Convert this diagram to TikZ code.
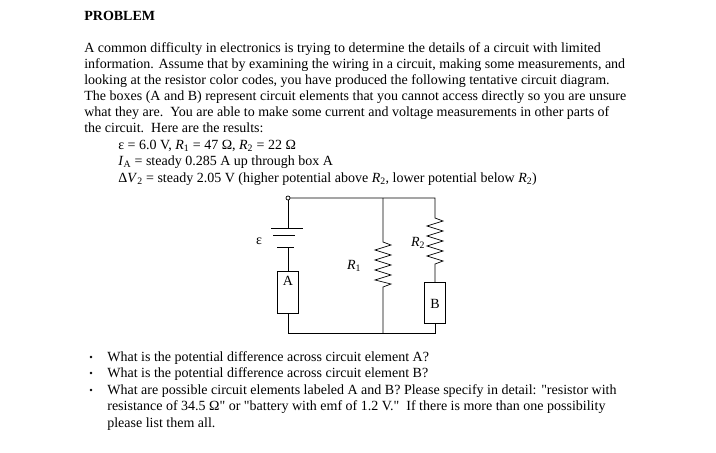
\documentclass[tikz,border=0pt]{standalone}
\usepackage{fontspec}
\setmainfont{Liberation Serif}[Ligatures=TeXOff]
\begin{document}
\begin{tikzpicture}[x=1pt,y=-1pt,line width=0.7pt,
 txt/.style={anchor=base west,inner sep=0pt,font=\fontsize{14}{16}\selectfont},
 lab/.style={inner sep=0pt,font=\fontsize{14}{16}\selectfont},
 box/.style={draw,minimum width=21pt,inner sep=0pt}]
\useasboundingbox (0,0) rectangle (716,453);
\node[txt,font=\bfseries\fontsize{14}{16}\selectfont] (title) at (84,20) {PROBLEM};
\node[txt] (l1) at (84,52) {A common difficulty in electronics is trying to determine the details of a circuit with limited};
\node[txt] (l2) at (84,68) {information. Assume that by examining the wiring in a circuit, making some measurements, and};
\node[txt] (l3) at (84,84) {looking at the resistor color codes, you have produced the following tentative circuit diagram.};
\node[txt] (l4) at (84,100) {The boxes (A and B) represent circuit elements that you cannot access directly so you are unsure};
\node[txt] (l5) at (84,116) {what they are.\ \ You are able to make some current and voltage measurements in other parts of};
\node[txt] (l6) at (84,132) {the circuit.\ \ Here are the results:};
\node[txt] (m1) at (118,149) {ε = 6.0 V, \textit{R}\textsubscript{1} = 47 Ω, \textit{R}\textsubscript{2} = 22 Ω};
\node[txt] (m2) at (118,165) {\textit{I}\textsubscript{A} = steady 0.285 A up through box A};
\node[txt] (m3) at (118,182) {Δ\textit{V}\textsubscript{2} = steady 2.05 V (higher potential above \textit{R}\textsubscript{2}, lower potential below \textit{R}\textsubscript{2})};
% circuit
\coordinate (tl) at (288,198); \coordinate (tr) at (435,198);
\coordinate (tm) at (383,198);
\coordinate (bl) at (288,333); \coordinate (bm) at (383,333); \coordinate (br) at (435,333);
\draw (tl) circle (2);
\draw (288,200) -- (288,228);
\draw (271,228) -- (303,228);
\draw (273,235) -- (295,235);
\draw (277,247) -- (294,247);
\draw (288,247) -- (288,271);
\node[box,minimum height=42pt,anchor=north] (A) at (288,271) {};
\node[lab,anchor=north] at (288,276) {A};
\node[box,minimum height=41pt,anchor=north] (B) at (435,282) {};
\node[lab] at (435,304) {B};
\draw (A.south) -- (bl) -- (br) -- (B.south);
\draw (290,198) -- (tr) -- (435,218) -- (443,221) -- (427,226) -- (443,231) -- (427,236) -- (443,241) -- (427,246) -- (443,251) -- (427,256) -- (443,261) -- (435,264) -- (B.north);
\draw (tm) -- (383,242) -- (391,245) -- (375,250) -- (391,255) -- (375,260) -- (391,265) -- (375,270) -- (391,275) -- (375,280) -- (391,284) -- (383,287) -- (bm);
\node[lab] at (259,241) {ε};
\node[lab] at (354,266) {\textit{R}\textsubscript{1}};
\node[lab] at (418,243) {\textit{R}\textsubscript{2}};
% bullets
\foreach \y in {361,377,394}{\fill (91,\y-4) circle (1.3);}
\node[txt] (b1) at (107,361) {What is the potential difference across circuit element A?};
\node[txt] (b2) at (107,377) {What is the potential difference across circuit element B?};
\node[txt] (b3) at (107,394) {What are possible circuit elements labeled A and B? Please specify in detail: "resistor with};
\node[txt] (b4) at (107,410) {resistance of 34.5 Ω" or "battery with emf of 1.2 V."\ \ If there is more than one possibility};
\node[txt] (b5) at (107,427) {please list them all.};
\end{tikzpicture}
\end{document}
